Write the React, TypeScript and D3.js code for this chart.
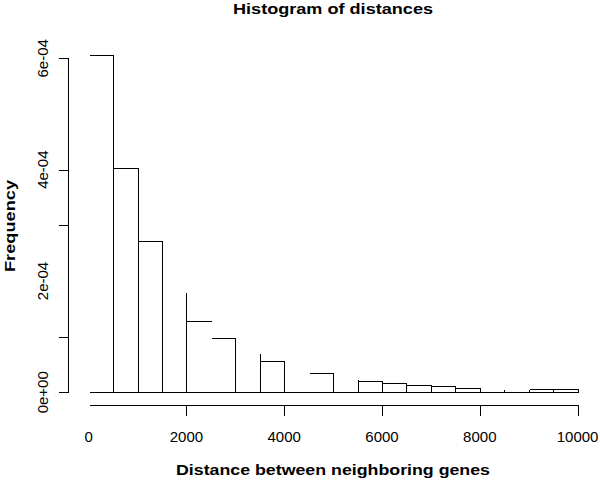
import { useEffect, useRef } from "react";
import * as d3 from "d3";

// histogram bins: 500-wide bins from 0 to 10000
const binStarts = [0, 500, 1000, 1500, 2000, 2500, 3000, 3500, 4000, 4500, 5000, 5500, 6000, 6500, 7000, 7500, 8000, 8500, 9000, 9500];
const binWidth = 500;
// density per bin
const density = [6.06e-4, 4.03e-4, 2.72e-4, 1.8e-4, 1.275e-4, 0.97e-4, 0.705e-4, 0.56e-4, 0.365e-4, 0.34e-4, 0.233e-4, 0.197e-4, 0.162e-4, 0.126e-4, 0.108e-4, 0.072e-4, 0.06e-4, 0.01e-4, 0.054e-4, 0.054e-4];
// the reference image drops a few lines; mirror that
const hiddenTops = [1500, 3000, 4000, 5000, 8000, 8500];
const hiddenEdges = [0, 2500, 4500];

const xTicks = [0, 2000, 4000, 6000, 8000, 10000];
const yTicks = [0, 1e-4, 2e-4, 3e-4, 4e-4, 5e-4, 6e-4];
const yTickHidden = [2e-4, 5e-4];
const yLabels = [0, 2e-4, 4e-4, 6e-4];
const yLabelText = ["0e+00", "2e-04", "4e-04", "6e-04"];

const W = 600;
const H = 480;
const FONT = "'Liberation Sans', Arial, sans-serif";

export default function App() {
  const ref = useRef<SVGSVGElement>(null);

  useEffect(() => {
    const svg = d3.select(ref.current);
    svg.selectAll("*").remove();

    const x = d3.scaleLinear().domain([0, 10000]).range([88.6, 577.6]);
    const y = d3.scaleLinear().domain([0, 6e-4]).range([392.3, 58.3]);
    const px = (v: number) => Math.round(v) + 0.5;

    const g = svg.append("g").attr("stroke", "#000").attr("stroke-width", 1).attr("fill", "none")
      .attr("shape-rendering", "crispEdges");

    // baseline of bars
    g.append("line")
      .attr("x1", px(x(0))).attr("x2", px(x(10000)))
      .attr("y1", px(y(0))).attr("y2", px(y(0)));

    // bar tops
    binStarts.forEach((b, i) => {
      if (hiddenTops.includes(b)) return;
      g.append("line")
        .attr("x1", px(x(b))).attr("x2", px(x(b + binWidth)))
        .attr("y1", px(y(density[i]))).attr("y2", px(y(density[i])));
    });

    // vertical edges between bins
    const edges = [...binStarts, 10000];
    edges.forEach((e, i) => {
      if (hiddenEdges.includes(e)) return;
      const left = i > 0 ? density[i - 1] : 0;
      const right = i < density.length ? density[i] : 0;
      g.append("line")
        .attr("x1", px(x(e))).attr("x2", px(x(e)))
        .attr("y1", px(y(0))).attr("y2", px(y(Math.max(left, right))));
    });

    // x axis
    const xAxisY = 405;
    g.append("line")
      .attr("x1", px(x(0))).attr("x2", px(x(10000)))
      .attr("y1", px(xAxisY)).attr("y2", px(xAxisY));
    xTicks.forEach((t) => {
      if (hiddenEdges.includes(t)) return;
      g.append("line")
        .attr("x1", px(x(t))).attr("x2", px(x(t)))
        .attr("y1", px(xAxisY)).attr("y2", px(xAxisY + 10));
    });
    svg.append("g").selectAll("text").data(xTicks).enter().append("text")
      .attr("x", (d) => x(d)).attr("y", 442)
      .attr("text-anchor", "middle")
      .style("font-family", FONT).style("font-size", "15px")
      .text((d) => String(d));

    // y axis
    const yAxisX = 68;
    g.append("line")
      .attr("x1", px(yAxisX)).attr("x2", px(yAxisX))
      .attr("y1", px(y(0))).attr("y2", px(y(6e-4)));
    yTicks.forEach((t) => {
      if (yTickHidden.includes(t)) return;
      g.append("line")
        .attr("x1", px(yAxisX - 10)).attr("x2", px(yAxisX))
        .attr("y1", px(y(t))).attr("y2", px(y(t)));
    });
    svg.append("g").selectAll("text").data(yLabels).enter().append("text")
      .attr("transform", (d) => `translate(48,${y(d)}) rotate(-90)`)
      .attr("text-anchor", "middle")
      .style("font-family", FONT).style("font-size", "15px")
      .text((d, i) => yLabelText[i]);

    // titles (reference font is wide, so stretch to its width)
    const bold = (sel: any) =>
      sel.attr("text-anchor", "middle")
        .attr("lengthAdjust", "spacingAndGlyphs")
        .style("font-family", FONT).style("font-size", "15px").style("font-weight", "bold");
    svg.append("text")
      .attr("x", 333).attr("y", 14)
      .attr("textLength", 200)
      .call(bold)
      .text("Histogram of distances");
    svg.append("text")
      .attr("x", 333).attr("y", 475)
      .attr("textLength", 314)
      .call(bold)
      .text("Distance between neighboring genes");
    svg.append("text")
      .attr("transform", `translate(15,226) rotate(-90)`)
      .attr("textLength", 92)
      .call(bold)
      .text("Frequency");
  }, []);

  return (
    <svg
      ref={ref}
      width={W}
      height={H}
      style={{ position: "absolute", left: 0, top: 0, background: "#fff" }}
    />
  );
}
